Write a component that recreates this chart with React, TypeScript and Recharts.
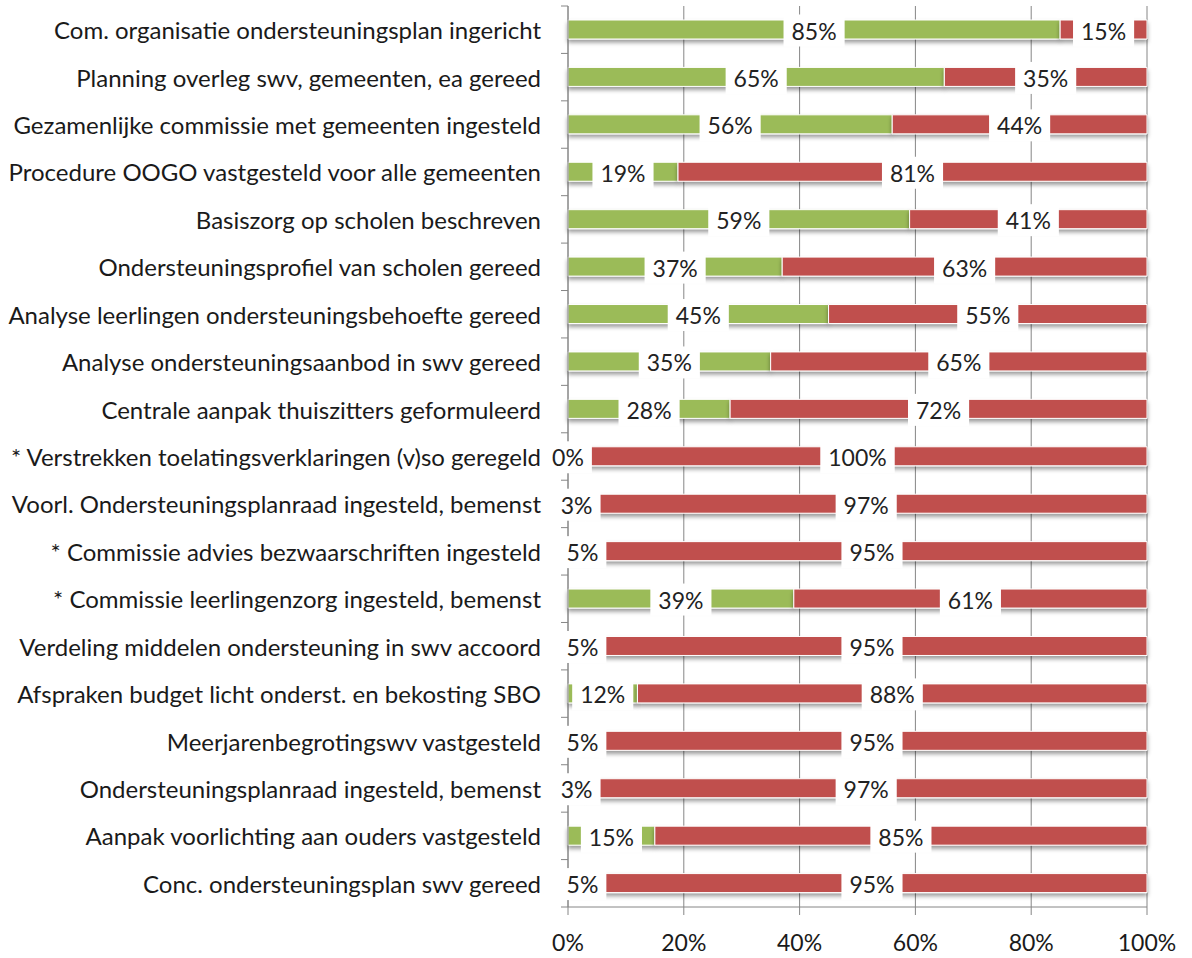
import { BarChart, Bar, XAxis, YAxis, CartesianGrid, LabelList } from "recharts";

const categories = [
  "Com. organisatie ondersteuningsplan ingericht",
  "Planning overleg swv, gemeenten, ea gereed",
  "Gezamenlijke commissie met gemeenten ingesteld",
  "Procedure OOGO vastgesteld voor alle gemeenten",
  "Basiszorg op scholen beschreven",
  "Ondersteuningsprofiel van scholen gereed",
  "Analyse leerlingen ondersteuningsbehoefte gereed",
  "Analyse ondersteuningsaanbod in swv gereed",
  "Centrale aanpak thuiszitters geformuleerd",
  "* Verstrekken toelatingsverklaringen (v)so geregeld",
  "Voorl. Ondersteuningsplanraad ingesteld, bemenst",
  "* Commissie advies bezwaarschriften ingesteld",
  "* Commissie leerlingenzorg ingesteld, bemenst",
  "Verdeling middelen ondersteuning in swv accoord",
  "Afspraken budget licht onderst. en bekosting SBO",
  "Meerjarenbegrotingswv vastgesteld",
  "Ondersteuningsplanraad ingesteld, bemenst",
  "Aanpak voorlichting aan ouders vastgesteld",
  "Conc. ondersteuningsplan swv gereed",
];

const gereed = [85, 65, 56, 19, 59, 37, 45, 35, 28, 0, 3, 5, 39, 5, 12, 5, 3, 15, 5];
const nietGereed = [15, 35, 44, 81, 41, 63, 55, 65, 72, 100, 97, 95, 61, 95, 88, 95, 97, 85, 95];

const xTicks = [0, 20, 40, 60, 80, 100];

const data = categories.map((name, i) => ({
  name,
  gereed: gereed[i],
  nietGereed: nietGereed[i],
}));

const GREEN = "#9BBB59";
const RED = "#C0504D";
const AXIS = "#868686";
const FONT = "Lato, 'Open Sans', sans-serif";
const FONT_SIZE = 23;
const CAT_FONT_SIZE = 24;

const W = 1192;
const H = 958;
const MARGIN = { top: 6, right: 45, bottom: 0, left: 0 };
const Y_AXIS_W = 568;
const X_AXIS_H = 51;
const BAND = (H - MARGIN.top - X_AXIS_H) / categories.length;

let ctx: CanvasRenderingContext2D | null = null;
function textWidth(s: string) {
  if (!ctx) ctx = document.createElement("canvas").getContext("2d");
  if (!ctx) return s.length * FONT_SIZE * 0.55;
  ctx.font = `${FONT_SIZE}px ${FONT}`;
  return ctx.measureText(s).width;
}

function ValueBox({ cx, cy, value }: { cx: number; cy: number; value: number }) {
  const txt = `${value}%`;
  const w = textWidth(txt) + 16;
  const h = 32;
  return (
    <g>
      <rect x={cx - w / 2} y={cy - h / 2 + 1} width={w} height={h} fill="#fff" />
      <text
        x={cx}
        y={cy + 1}
        textAnchor="middle"
        dominantBaseline="central"
        fontFamily={FONT}
        fontSize={FONT_SIZE}
        fill="#222"
      >
        {txt}
      </text>
    </g>
  );
}

// both labels drawn from the red series so they sit above every bar
function SegmentLabels(props: any) {
  const { x, y, width, height, index } = props;
  const g = gereed[index];
  const r = nietGereed[index];
  const cy = y + height / 2;
  const greenW = (width * g) / r;
  const left = x - greenW;
  return (
    <g>
      <ValueBox cx={left + greenW / 2} cy={cy} value={g} />
      <ValueBox cx={x + width / 2} cy={cy} value={r} />
    </g>
  );
}

function CategoryTick(props: any) {
  const { y, payload, index } = props;
  const top = y - BAND / 2;
  const last = index === categories.length - 1;
  return (
    <g>
      <line x1={Y_AXIS_W - 7} y1={top} x2={Y_AXIS_W} y2={top} stroke={AXIS} />
      {last && <line x1={Y_AXIS_W - 7} y1={top + BAND} x2={Y_AXIS_W} y2={top + BAND} stroke={AXIS} />}
      <text
        x={Y_AXIS_W - 27}
        y={y}
        textAnchor="end"
        dominantBaseline="central"
        fontFamily={FONT}
        fontSize={CAT_FONT_SIZE}
        fill="#1a1a1a"
      >
        {payload.value}
      </text>
    </g>
  );
}

export default function App() {
  return (
    <div style={{ position: "absolute", left: 0, top: 0, width: W, height: H, background: "#fff" }}>
      <BarChart
        width={W}
        height={H}
        data={data}
        layout="vertical"
        margin={MARGIN}
        barSize={19}
      >
        <defs>
          <filter id="barShadow" x="-5%" y="-50%" width="110%" height="250%">
            <feDropShadow dx="0" dy="3" stdDeviation="2" floodColor="#000" floodOpacity="0.4" />
          </filter>
        </defs>
        <CartesianGrid horizontal={false} stroke={AXIS} strokeWidth={1} />
        <XAxis
          type="number"
          domain={[0, 100]}
          ticks={xTicks}
          tickFormatter={(v) => `${v}%`}
          height={X_AXIS_H}
          stroke={AXIS}
          tickSize={8}
          tickMargin={20}
          tick={{ fontFamily: FONT, fontSize: FONT_SIZE, fill: "#1a1a1a" }}
          interval={0}
        />
        <YAxis
          type="category"
          dataKey="name"
          width={Y_AXIS_W}
          stroke={AXIS}
          tickLine={false}
          tick={<CategoryTick />}
          interval={0}
        />
        <Bar
          dataKey="gereed"
          stackId="a"
          fill={GREEN}
          stroke="#fff"
          strokeWidth={1}
          filter="url(#barShadow)"
          isAnimationActive={false}
        />
        <Bar
          dataKey="nietGereed"
          stackId="a"
          fill={RED}
          stroke="#fff"
          strokeWidth={1}
          filter="url(#barShadow)"
          isAnimationActive={false}
        >
          <LabelList dataKey="nietGereed" content={<SegmentLabels />} />
        </Bar>
      </BarChart>
    </div>
  );
}
